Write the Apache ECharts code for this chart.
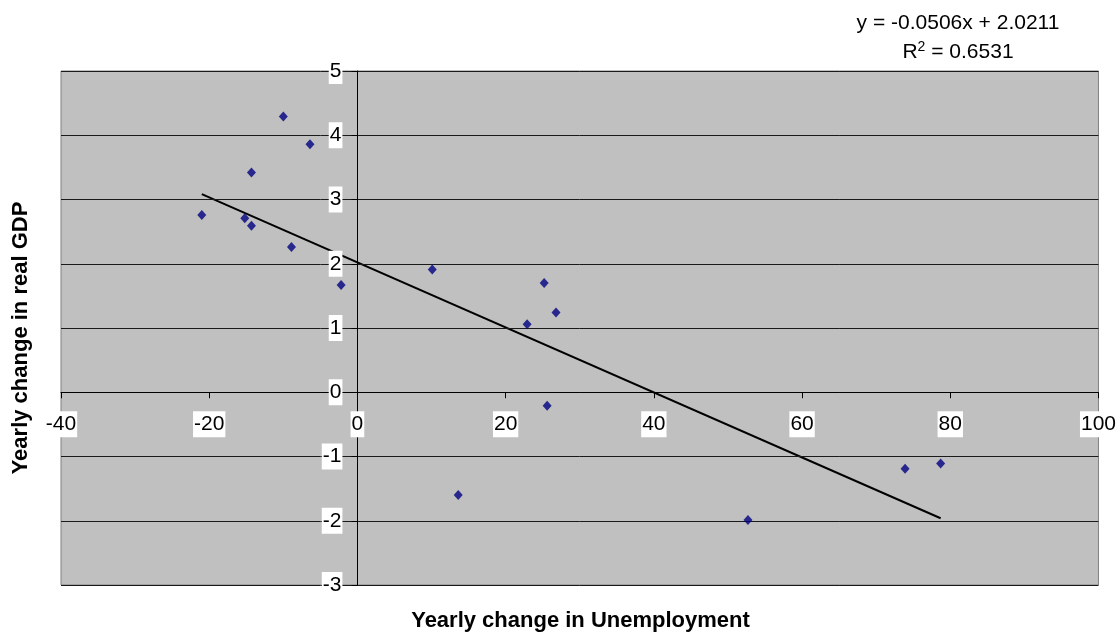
<!DOCTYPE html>
<html>
<head>
<meta charset="utf-8">
<script src="https://cdn.jsdelivr.net/npm/echarts@6/dist/echarts.min.js"></script>
<style>
  html, body { margin: 0; padding: 0; background: #fff; }
  #chart { width: 1120px; height: 633px; }
</style>
</head>
<body>
<div id="chart"></div>
<script>
// Yearly change in unemployment (x) against yearly change in real GDP (y)
const unemploymentChange = [-10.0, -6.4, -14.3, -21.0, -15.2, -14.3, -8.9, -2.2, 10.1, 25.2, 26.8, 22.9, 25.6, 13.6, 52.7, 73.9, 78.7];
const gdpChange = [4.29, 3.86, 3.42, 2.76, 2.71, 2.59, 2.26, 1.67, 1.91, 1.70, 1.24, 1.06, -0.21, -1.60, -1.99, -1.19, -1.11];

// Linear trendline coefficients
const trendSlope = -0.0506;
const trendIntercept = 2.0211;
const trendR2 = 0.6531;

// Axis tick settings
const xTicks = { min: -40, max: 100, interval: 20 };
const yTicks = { min: -3, max: 5, interval: 1 };

const points = unemploymentChange.map((x, i) => [x, gdpChange[i]]);
const xLo = Math.min(...unemploymentChange);
const xHi = Math.max(...unemploymentChange);
const trendPoints = [xLo, xHi].map(x => [x, trendSlope * x + trendIntercept]);

const FONT = "'Liberation Sans', Arial, sans-serif";
const GRID = { left: 61, right: 20, top: 71, bottom: 48 };
const W = 1120, H = 633;

const chart = echarts.init(document.getElementById('chart'), null, { renderer: 'canvas' });

const labelStyle = {
  color: '#000',
  fontFamily: FONT,
  fontSize: 21,
  backgroundColor: '#fff',
  padding: [1, 1, 1, 1],
  lineHeight: 24
};

chart.setOption({
  animation: false,
  backgroundColor: '#fff',
  grid: Object.assign({
    show: true,
    backgroundColor: '#c0c0c0',
    borderColor: '#808080',
    borderWidth: 1
  }, GRID),
  xAxis: {
    type: 'value',
    position: 'bottom',
    min: xTicks.min, max: xTicks.max, interval: xTicks.interval,
    axisLine: { onZero: false, lineStyle: { color: '#000', width: 1 } },
    axisTick: { show: true, length: 6, lineStyle: { color: '#000' } },
    axisLabel: Object.assign({ margin: 19 }, labelStyle),
    splitLine: { show: false },
    z: 3
  },
  yAxis: {
    type: 'value',
    position: 'left',
    min: yTicks.min, max: yTicks.max, interval: yTicks.interval,
    axisLine: { onZero: false, lineStyle: { color: '#000', width: 1 } },
    axisTick: { show: true, length: 6, lineStyle: { color: '#000' } },
    axisLabel: Object.assign({ margin: 15 }, labelStyle),
    splitLine: { show: true, lineStyle: { color: '#1a1a1a', width: 1 } },
    z: 3
  },
  series: [
    {
      type: 'line',
      data: trendPoints,
      symbol: 'none',
      lineStyle: { color: '#000', width: 2 },
      silent: true,
      z: 2
    },
    {
      type: 'scatter',
      data: points,
      symbol: 'diamond',
      symbolSize: [9, 10],
      itemStyle: { color: '#000080' },
      z: 4
    }
  ],
  graphic: [
    {
      type: 'text',
      x: 958, y: 23,
      style: {
        text: 'y = ' + trendSlope.toFixed(4) + 'x + ' + trendIntercept.toFixed(4),
        font: '21px ' + FONT,
        fill: '#000',
        textAlign: 'center',
        textVerticalAlign: 'middle'
      }
    },
    {
      type: 'text',
      x: 958, y: 52,
      style: {
        text: 'R{sup|2} = ' + trendR2.toFixed(4),
        rich: {
          sup: { fontSize: 14, verticalAlign: 'top', padding: [0, 0, 10, 0], fontFamily: FONT }
        },
        fontFamily: FONT,
        fontSize: 21,
        fill: '#000',
        textAlign: 'center',
        textVerticalAlign: 'middle'
      }
    },
    {
      type: 'text',
      x: (GRID.left + W - GRID.right) / 2, y: 621,
      style: {
        text: 'Yearly change in Unemployment',
        font: 'bold 22px ' + FONT,
        fill: '#000',
        textAlign: 'center',
        textVerticalAlign: 'middle'
      }
    },
    {
      type: 'text',
      x: 21, y: 338,
      rotation: Math.PI / 2,
      style: {
        text: 'Yearly change in real GDP',
        font: 'bold 22px ' + FONT,
        fill: '#000',
        textAlign: 'center',
        textVerticalAlign: 'middle'
      }
    }
  ]
});

// Move both axes (line, ticks and labels) so they cross at the origin
const origin = chart.convertToPixel({ gridIndex: 0 }, [0, 0]);
chart.setOption({
  xAxis: { offset: -((H - GRID.bottom) - origin[1]) },
  yAxis: { offset: -(origin[0] - GRID.left) }
});
</script>
</body>
</html>
